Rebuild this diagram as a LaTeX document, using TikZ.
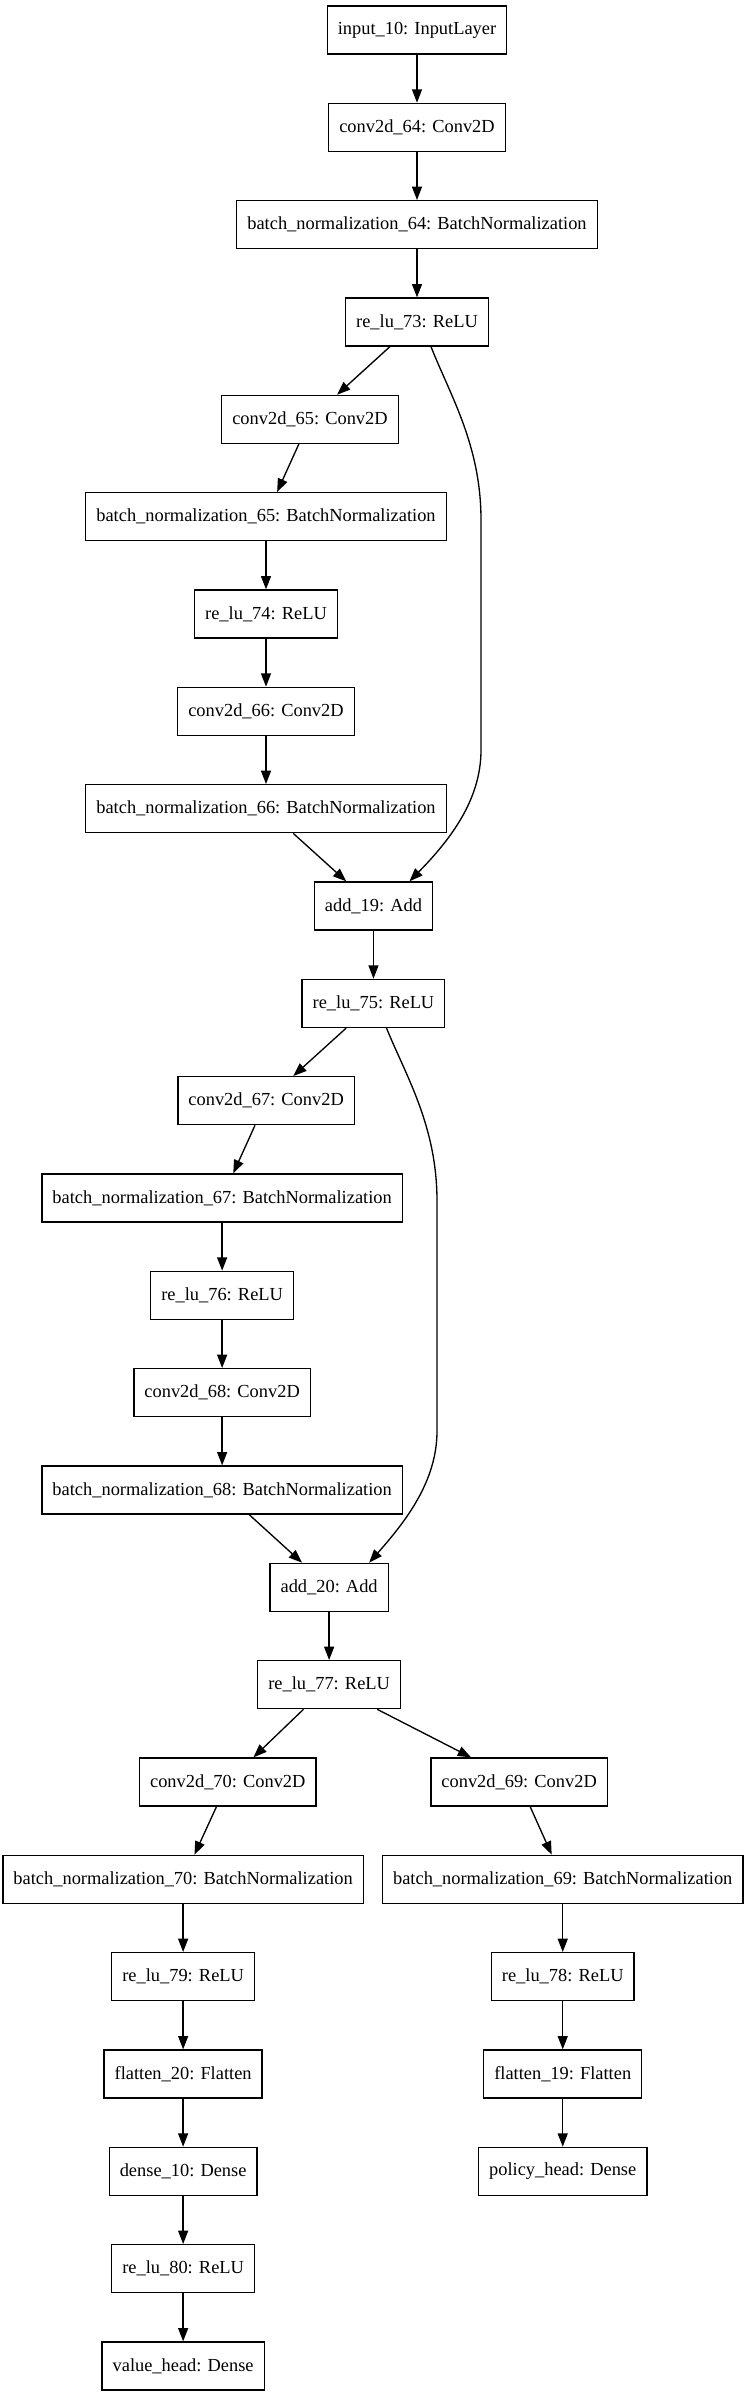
\documentclass[tikz,border=0pt]{standalone}
\usepackage{fontspec}
\setmainfont{Liberation Serif}
\usepackage{tikz}
\usetikzlibrary{arrows.meta,positioning,calc}
\tikzset{
  layerbox/.style={
    rectangle,
    draw=black,
    line width=1pt,
    minimum width=54pt,
    minimum height=36pt,
    inner xsep=7.9pt,
    inner ysep=0pt,
    align=center,
    font=\fontsize{13.8pt}{16pt}\selectfont,
    fill=white
  },
  flow/.style={-{Triangle[length=10pt,width=7.5pt]}, line width=1pt, black}
}

\begin{document}
\begin{tikzpicture}[x=0.75pt, y=-0.75pt, node distance=36pt]
\useasboundingbox (0,0) rectangle (744,2396);
% stem
\node[layerbox] (input10) at (417,30) {input\_10: InputLayer};
\node[layerbox, below=of input10] (conv64) {conv2d\_64: Conv2D};
\node[layerbox, below=of conv64] (bn64) {batch\_normalization\_64: BatchNormalization};
\node[layerbox, below=of bn64] (relu73) {re\_lu\_73: ReLU};
% first residual block
\node[layerbox, below=of relu73, xshift=-80.25pt] (conv65) {conv2d\_65: Conv2D};
\node[layerbox, below=of conv65, xshift=-33pt] (bn65) {batch\_normalization\_65: BatchNormalization};
\node[layerbox, below=of bn65] (relu74) {re\_lu\_74: ReLU};
\node[layerbox, below=of relu74] (conv66) {conv2d\_66: Conv2D};
\node[layerbox, below=of conv66] (bn66) {batch\_normalization\_66: BatchNormalization};
\node[layerbox, below=of bn66, xshift=80.6pt] (add19) {add\_19: Add};
\node[layerbox, below=of add19] (relu75) {re\_lu\_75: ReLU};
% second residual block
\node[layerbox, below=of relu75, xshift=-80.5pt] (conv67) {conv2d\_67: Conv2D};
\node[layerbox, below=of conv67, xshift=-33pt] (bn67) {batch\_normalization\_67: BatchNormalization};
\node[layerbox, below=of bn67] (relu76) {re\_lu\_76: ReLU};
\node[layerbox, below=of relu76] (conv68) {conv2d\_68: Conv2D};
\node[layerbox, below=of conv68] (bn68) {batch\_normalization\_68: BatchNormalization};
\node[layerbox, below=of bn68, xshift=80.25pt] (add20) {add\_20: Add};
\node[layerbox, below=of add20] (relu77) {re\_lu\_77: ReLU};
% heads
\node[layerbox, below=of relu77, xshift=-76pt] (conv70) {conv2d\_70: Conv2D};
\node[layerbox, below=of relu77, xshift=142.5pt] (conv69) {conv2d\_69: Conv2D};
\node[layerbox, below=of conv70, xshift=-33.5pt] (bn70) {batch\_normalization\_70: BatchNormalization};
\node[layerbox, below=of conv69, xshift=32.7pt] (bn69) {batch\_normalization\_69: BatchNormalization};
\node[layerbox, below=of bn70] (relu79) {re\_lu\_79: ReLU};
\node[layerbox, below=of relu79] (flatten20) {flatten\_20: Flatten};
\node[layerbox, below=of flatten20] (dense10) {dense\_10: Dense};
\node[layerbox, below=of dense10] (relu80) {re\_lu\_80: ReLU};
\node[layerbox, below=of relu80] (valuehead) {value\_head: Dense};
\node[layerbox, below=of bn69] (relu78) {re\_lu\_78: ReLU};
\node[layerbox, below=of relu78] (flatten19) {flatten\_19: Flatten};
\node[layerbox, below=of flatten19] (policyhead) {policy\_head: Dense};

\draw[flow] (input10) -- (conv64);
\draw[flow] (conv64) -- (bn64);
\draw[flow] (bn64) -- (relu73);
\draw[flow] (relu73) -- (conv65);
\draw[flow] (conv65) -- (bn65);
\draw[flow] (bn65) -- (relu74);
\draw[flow] (relu74) -- (conv66);
\draw[flow] (conv66) -- (bn66);
\draw[flow] (bn66) -- (add19);
\draw[flow] ($(relu73.south)+(14,0)$) .. controls (450,395) and (481,445) .. (481,520)
  -- (481,750) .. controls (481,800) and (450,840) .. ($(add19.north)+(36,0)$);
\draw[flow] (add19) -- (relu75);
\draw[flow] (relu75) -- (conv67);
\draw[flow] (conv67) -- (bn67);
\draw[flow] (bn67) -- (relu76);
\draw[flow] (relu76) -- (conv68);
\draw[flow] (conv68) -- (bn68);
\draw[flow] (bn68) -- (add20);
\draw[flow] ($(relu75.south)+(13,0)$) .. controls (406,1076) and (437,1126) .. (437,1201)
  -- (437,1431) .. controls (437,1481) and (406,1521) .. ($(add20.north)+(40,0)$);
\draw[flow] (add20) -- (relu77);
\draw[flow] (relu77) -- (conv70);
\draw[flow] (relu77) -- (conv69);
\draw[flow] (conv70) -- (bn70);
\draw[flow] (conv69) -- (bn69);
\draw[flow] (bn70) -- (relu79);
\draw[flow] (relu79) -- (flatten20);
\draw[flow] (flatten20) -- (dense10);
\draw[flow] (dense10) -- (relu80);
\draw[flow] (relu80) -- (valuehead);
\draw[flow] (bn69) -- (relu78);
\draw[flow] (relu78) -- (flatten19);
\draw[flow] (flatten19) -- (policyhead);
\end{tikzpicture}
\end{document}
